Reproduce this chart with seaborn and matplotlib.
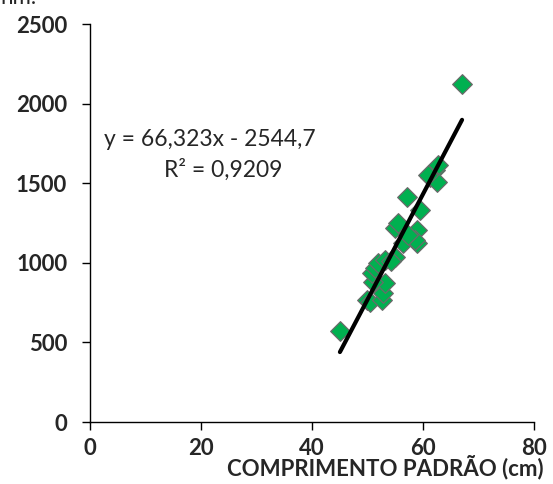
import numpy as np
import pandas as pd
import matplotlib
matplotlib.use("Agg")
import matplotlib.pyplot as plt
import seaborn as sns

# Data (standard length in cm vs. weight)
comprimento = [67.0, 45.0, 49.9, 50.4, 52.6, 52.8, 53.2, 51.0, 50.8, 51.4,
               51.9, 53.2, 55.0, 54.2, 56.4, 58.9, 57.1, 59.5, 55.0, 55.5,
               58.9, 58.6, 57.3, 61.3, 62.2, 62.7, 62.5, 60.9]
peso = [2123, 570, 766, 755, 770, 810, 873, 880, 936, 967,
        999, 1018, 1036, 1010, 1124, 1124, 1413, 1332, 1219, 1250,
        1206, 1143, 1175, 1539, 1583, 1614, 1510, 1550]

trend_slope = 66.323
trend_intercept = -2544.7
eq_text = "y = 66,323x - 2544,7"
r2_text = "R² = 0,9209"
x_label = "COMPRIMENTO PADRÃO (cm)"
x_ticks = [0, 20, 40, 60, 80]
y_ticks = [0, 500, 1000, 1500, 2000, 2500]

sns.set_style("white")
plt.rcParams['font.family'] = ['Lato', 'DejaVu Sans']

fig = plt.figure(figsize=(5.53, 4.84), dpi=100)
ax = fig.add_axes([0.163, 0.128, 0.803, 0.822])

df = pd.DataFrame({"comprimento": comprimento, "peso": peso})
sns.scatterplot(data=df, x="comprimento", y="peso", ax=ax, marker="D",
                s=100, color="#00B050", edgecolor="#6a6a6a", linewidth=0.9,
                zorder=3)

xs = np.array([min(comprimento), max(comprimento)])
ax.plot(xs, trend_slope * xs + trend_intercept, color="black", lw=3,
        solid_capstyle="round", zorder=4)

ax.set_xlim(0, 80)
ax.set_ylim(0, 2500)
ax.set_xticks(x_ticks)
ax.set_yticks(y_ticks)
ax.set_xticklabels([str(t) for t in x_ticks], fontsize=16, fontweight="bold")
ax.set_yticklabels([str(t) for t in y_ticks], fontsize=16, fontweight="bold")
ax.tick_params(axis="both", direction="out", length=5.5, width=1, color="black",
               bottom=True, left=True)
ax.tick_params(axis="y", pad=11)
ax.tick_params(axis="x", pad=6)
for side in ["top", "right"]:
    ax.spines[side].set_visible(False)
for side in ["left", "bottom"]:
    ax.spines[side].set_color("black")
    ax.spines[side].set_linewidth(1)

ax.set_xlabel("")
ax.set_ylabel("")
fig.text(0.696, 0.035, x_label, fontsize=16, fontweight="bold",
         ha="center", va="center")

ax.text(0.032, 0.709, eq_text, transform=ax.transAxes, fontsize=16.5,
        ha="left", va="center")
ax.text(0.30, 0.633, r2_text, transform=ax.transAxes, fontsize=16.5,
        ha="center", va="center")

fig.text(0.0, 1.005, "nm.", fontsize=16, ha="left", va="center")

fig.savefig("out.png", dpi=100)
